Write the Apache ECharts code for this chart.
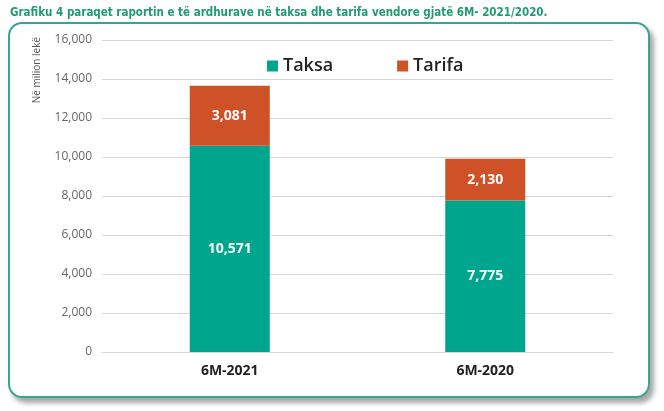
<!DOCTYPE html>
<html>
<head>
<meta charset="utf-8">
<script src="https://cdn.jsdelivr.net/npm/echarts@6/dist/echarts.min.js"></script>
<style>
  html, body { margin: 0; padding: 0; background: #fff; }
  #wrap { position: relative; width: 664px; height: 411px; overflow: hidden; }
  #frame {
    position: absolute; left: 8px; top: 22px; width: 638px; height: 372px;
    border: 2px solid #3aa58f; border-radius: 14px;
    box-shadow: 4px 5px 5px rgba(0,0,0,0.35);
    background: #fff;
  }
  #chart { position: absolute; left: 0; top: 0; width: 664px; height: 411px; }
</style>
</head>
<body>
<div id="wrap">
  <div id="frame"></div>
  <div id="chart"></div>
</div>
<script>
const titleText = 'Grafiku 4 paraqet raportin e të ardhurave në taksa dhe tarifa vendore gjatë 6M- 2021/2020.'
const categories = ['6M-2021', '6M-2020']
const taksa = [10571, 7775]
const tarifa = [3081, 2130]
const yTicks = { min: 0, max: 16000, interval: 2000 }

const chart = echarts.init(document.getElementById('chart'), null, { renderer: 'canvas' })

const valueLabel = {
  show: true,
  position: 'inside',
  color: '#fff',
  fontFamily: 'Open Sans',
  fontWeight: 'bold',
  fontSize: 14,
  formatter: p => p.value.toLocaleString('en-US')
}

chart.setOption({
  backgroundColor: 'transparent',
  animation: false,
  title: {
    text: titleText,
    left: 5,
    top: 2,
    textStyle: {
      color: '#1f9b73',
      fontFamily: 'DejaVu Sans Condensed',
      fontWeight: 'bold',
      fontSize: 11.5
    }
  },
  legend: {
    left: 262,
    top: 52,
    itemWidth: 11,
    itemHeight: 11,
    itemGap: 64,
    icon: 'rect',
    textStyle: {
      color: '#222',
      fontFamily: 'Open Sans',
      fontWeight: 600,
      fontSize: 18
    },
    data: ['Taksa', 'Tarifa']
  },
  grid: { left: 102, right: 51, top: 40, bottom: 59 },
  xAxis: {
    type: 'category',
    data: categories,
    axisTick: { show: false },
    axisLine: { lineStyle: { color: '#d9d9d9', width: 1 } },
    axisLabel: {
      color: '#222',
      fontFamily: 'Open Sans',
      fontWeight: 'bold',
      fontSize: 14,
      margin: 12
    }
  },
  yAxis: {
    type: 'value',
    min: yTicks.min,
    max: yTicks.max,
    interval: yTicks.interval,
    name: 'Në milion lekë',
    nameLocation: 'end',
    nameRotate: 90,
    nameGap: 0,
    nameTextStyle: {
      color: '#555',
      fontFamily: 'Open Sans',
      fontSize: 10,
      align: 'right',
      verticalAlign: 'bottom',
      padding: [0, -3, 60, 0]
    },
    axisLine: { show: false },
    axisTick: { show: false },
    splitLine: { lineStyle: { color: '#d6d6d6', width: 1 } },
    axisLabel: {
      color: '#666',
      fontFamily: 'Open Sans',
      fontSize: 12,
      margin: 10,
      formatter: v => v.toLocaleString('en-US')
    }
  },
  series: [
    {
      name: 'Taksa',
      type: 'bar',
      stack: 'total',
      barWidth: 80,
      itemStyle: { color: '#00a58d' },
      label: valueLabel,
      data: taksa
    },
    {
      name: 'Tarifa',
      type: 'bar',
      stack: 'total',
      barWidth: 80,
      itemStyle: { color: '#cf5128' },
      label: valueLabel,
      data: tarifa
    }
  ]
})
</script>
</body>
</html>
